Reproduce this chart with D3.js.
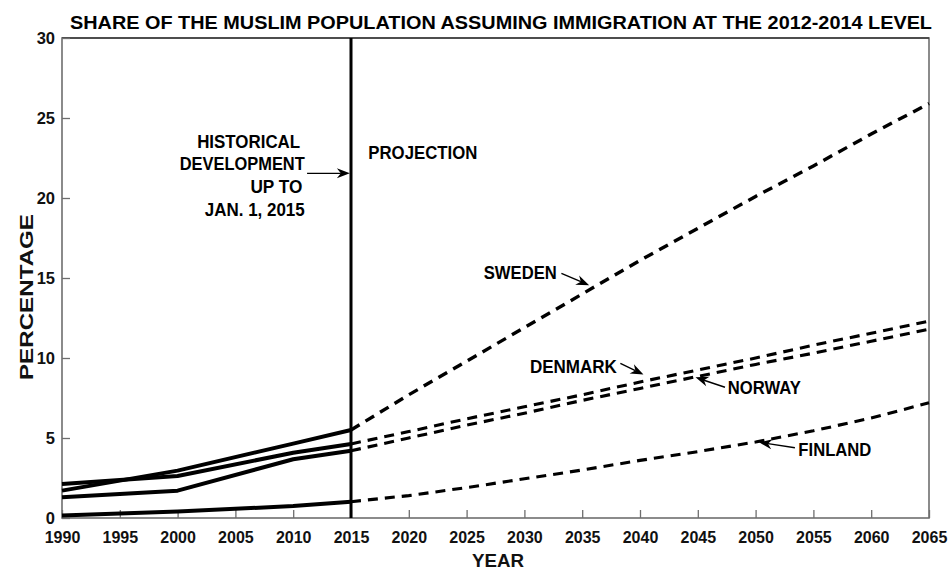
<!DOCTYPE html>
<html>
<head>
<meta charset="utf-8">
<script src="https://cdn.jsdelivr.net/npm/d3@7"></script>
<style>
  html, body { margin: 0; padding: 0; background: #fff; }
  svg { display: block; font-family: "Liberation Sans", Arial, sans-serif; font-weight: bold; }
</style>
</head>
<body>
<svg id="chart" width="950" height="570"></svg>
<script>
// ---- data ----
const histYears = [1990, 2000, 2010, 2015];
const projYears = [2015, 2020, 2025, 2030, 2035, 2040, 2045, 2050, 2055, 2060, 2065];

const swedenHist  = [1.71, 2.96, 4.65, 5.50];
const denmarkHist = [2.13, 2.63, 4.08, 4.63];
const norwayHist  = [1.29, 1.71, 3.67, 4.20];
const finlandHist = [0.15, 0.40, 0.75, 1.02];

const swedenProj  = [5.50, 7.70, 9.80, 11.90, 14.00, 16.10, 18.10, 20.10, 22.00, 24.00, 25.90];
const denmarkProj = [4.63, 5.40, 6.20, 6.95, 7.70, 8.50, 9.25, 10.00, 10.80, 11.55, 12.30];
const norwayProj  = [4.20, 5.00, 5.80, 6.55, 7.35, 8.10, 8.85, 9.60, 10.30, 11.05, 11.80];
const finlandProj = [1.02, 1.40, 1.90, 2.45, 3.00, 3.60, 4.15, 4.75, 5.45, 6.25, 7.20];

const xTicks = d3.range(1990, 2066, 5);
const yTicks = [0, 5, 10, 15, 20, 25, 30];

const titleText = "SHARE OF THE MUSLIM POPULATION ASSUMING IMMIGRATION AT THE 2012-2014 LEVEL";
const xTitle = "YEAR";
const yTitle = "PERCENTAGE";
const splitYear = 2015;

// annotations in data coordinates (w = text width)
const histLabel = [
  {t: "HISTORICAL",   x: 2010.6, y: 23.12, w: 103},
  {t: "DEVELOPMENT",  x: 2011.0, y: 21.75, w: 125},
  {t: "UP TO",        x: 2010.8, y: 20.31, w: 52},
  {t: "JAN. 1, 2015", x: 2011.0, y: 18.88, w: 100}
];
const labels = [
  {t: "PROJECTION", x: 2016.5, y: 22.44, anchor: "start", w: 109},
  {t: "SWEDEN",     x: 2032.8, y: 14.94, anchor: "end",   w: 73},
  {t: "DENMARK",    x: 2038.0, y: 9.08,  anchor: "end",   w: 87},
  {t: "NORWAY",     x: 2047.6, y: 7.75,  anchor: "start", w: 73},
  {t: "FINLAND",    x: 2053.7, y: 3.89,  anchor: "start", w: 73}
];
const arrows = [
  {x1: 2011.2, y1: 21.54, x2: 2014.9, y2: 21.54},
  {x1: 2033.2, y1: 15.29, x2: 2035.6, y2: 14.55},
  {x1: 2038.3, y1: 9.66,  x2: 2040.3, y2: 8.97},
  {x1: 2047.35, y1: 8.17, x2: 2044.8, y2: 8.79},
  {x1: 2053.4, y1: 4.39,  x2: 2050.3, y2: 4.73}
];

// ---- layout ----
const svg = d3.select("#chart");
const x = d3.scaleLinear().domain([1990, 2065]).range([62, 929]);
const y = d3.scaleLinear().domain([0, 30]).range([518, 38]);

// frame
svg.append("rect")
  .attr("x", x(1990)).attr("y", y(30))
  .attr("width", x(2065) - x(1990)).attr("height", y(0) - y(30))
  .attr("fill", "none").attr("stroke", "#6e6e6e").attr("stroke-width", 1.6);
svg.append("line").attr("x1", x(1990)).attr("x2", x(2065)).attr("y1", y(30)).attr("y2", y(30))
  .attr("stroke", "#3a3a3a").attr("stroke-width", 1.4);

// x axis (ticks inward)
const xAxis = d3.axisBottom(x).tickValues(xTicks).tickFormat(d3.format("d")).tickSize(-8).tickPadding(14);
const gx = svg.append("g").attr("transform", `translate(0,${y(0)})`).call(xAxis);
gx.select(".domain").remove();
gx.selectAll(".tick line").attr("stroke", "#6e6e6e").attr("stroke-width", 1.3);
gx.selectAll(".tick text").attr("font-size", 16).attr("font-weight", "bold")
  .attr("font-family", "'Liberation Sans', Arial, sans-serif").attr("fill", "#111");

// y axis (ticks inward)
const yAxis = d3.axisLeft(y).tickValues(yTicks).tickFormat(d3.format("d")).tickSize(-8).tickPadding(7);
const gy = svg.append("g").attr("transform", `translate(${x(1990)},0)`).call(yAxis);
gy.select(".domain").remove();
gy.selectAll(".tick line").attr("stroke", "#6e6e6e").attr("stroke-width", 1.3);
gy.selectAll(".tick text").attr("font-size", 16.5).attr("font-weight", "bold")
  .attr("font-family", "'Liberation Sans', Arial, sans-serif").attr("fill", "#111");

// title
svg.append("text").attr("x", 501).attr("y", 29).attr("text-anchor", "middle")
  .attr("font-size", 19).attr("fill", "#000")
  .attr("textLength", 862).attr("lengthAdjust", "spacingAndGlyphs").text(titleText);

// axis titles
svg.append("text").attr("x", 498).attr("y", 567).attr("text-anchor", "middle")
  .attr("font-size", 18.5).attr("fill", "#111")
  .attr("textLength", 52).attr("lengthAdjust", "spacingAndGlyphs").text(xTitle);
svg.append("text").attr("transform", "translate(33,297) rotate(-90)").attr("text-anchor", "middle")
  .attr("font-size", 18.5).attr("fill", "#111")
  .attr("textLength", 166).attr("lengthAdjust", "spacingAndGlyphs").text(yTitle);

// split line
svg.append("line").attr("x1", x(splitYear)).attr("x2", x(splitYear))
  .attr("y1", y(30)).attr("y2", y(0)).attr("stroke", "#000").attr("stroke-width", 3);

// series
const line = d3.line().x(d => x(d[0])).y(d => y(d[1]));
const hist = [swedenHist, denmarkHist, norwayHist, finlandHist];
const proj = [swedenProj, denmarkProj, norwayProj, finlandProj];
hist.forEach(vals => {
  svg.append("path").datum(histYears.map((yr, i) => [yr, vals[i]]))
    .attr("d", line).attr("fill", "none").attr("stroke", "#000")
    .attr("stroke-width", 4).attr("stroke-linejoin", "round");
});
proj.forEach((vals, k) => {
  svg.append("path").datum(projYears.map((yr, i) => [yr, vals[i]]))
    .attr("d", line).attr("fill", "none").attr("stroke", "#000")
    .attr("stroke-width", k === 0 ? 3.4 : 3.1).attr("stroke-dasharray", "10,7");
});

// annotation text
histLabel.forEach(l => {
  svg.append("text").attr("x", x(l.x)).attr("y", y(l.y)).attr("text-anchor", "end")
    .attr("font-size", 17.5).attr("fill", "#000")
    .attr("textLength", l.w).attr("lengthAdjust", "spacingAndGlyphs").text(l.t);
});
labels.forEach(l => {
  svg.append("text").attr("x", x(l.x)).attr("y", y(l.y)).attr("text-anchor", l.anchor)
    .attr("font-size", 17.5).attr("fill", "#000")
    .attr("textLength", l.w).attr("lengthAdjust", "spacingAndGlyphs").text(l.t);
});

// arrows
arrows.forEach(a => {
  const X1 = x(a.x1), Y1 = y(a.y1), X2 = x(a.x2), Y2 = y(a.y2);
  const len = Math.hypot(X2 - X1, Y2 - Y1);
  const ux = (X2 - X1) / len, uy = (Y2 - Y1) / len;
  const nx = -uy, ny = ux;
  const L = 13, W = 5, notch = 4;
  svg.append("line").attr("x1", X1).attr("y1", Y1)
    .attr("x2", X2 - ux * (L - notch)).attr("y2", Y2 - uy * (L - notch))
    .attr("stroke", "#000").attr("stroke-width", 1.4);
  const pts = [
    [X2, Y2],
    [X2 - ux * L + nx * W, Y2 - uy * L + ny * W],
    [X2 - ux * (L - notch), Y2 - uy * (L - notch)],
    [X2 - ux * L - nx * W, Y2 - uy * L - ny * W]
  ];
  svg.append("path").attr("d", "M" + pts.map(p => p.join(",")).join("L") + "Z").attr("fill", "#000");
});
</script>
</body>
</html>
